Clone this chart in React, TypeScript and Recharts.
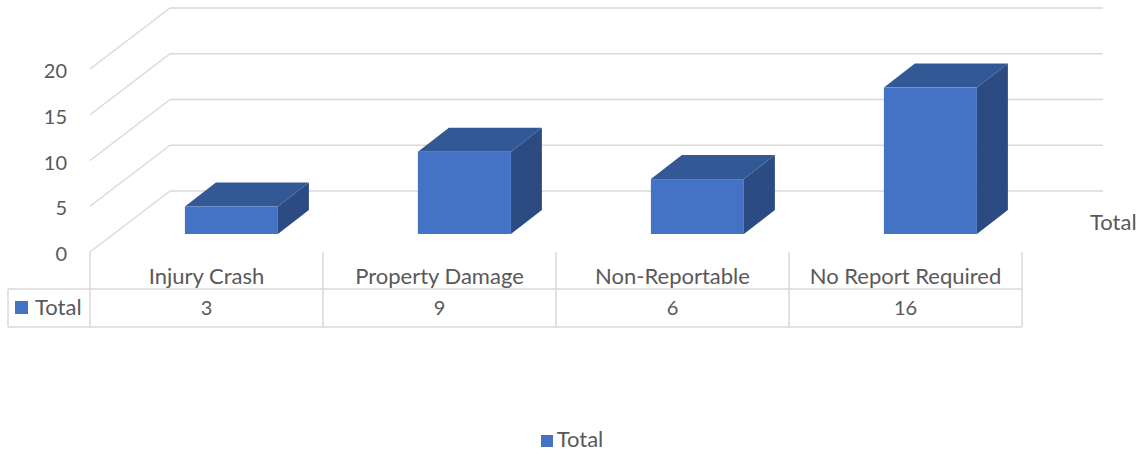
import { BarChart, Bar, XAxis, YAxis, Legend, CartesianGrid } from 'recharts';

const categories = ['Injury Crash', 'Property Damage', 'Non-Reportable', 'No Report Required'];
const totals = [3, 9, 6, 16];
const yTicks = [0, 5, 10, 15, 20];
const seriesName = 'Total';

const data = categories.map((name, i) => ({ name, total: totals[i] }));

const W = 1146;
const H = 455;
const TEXT = '#595959';
const GRID = '#D9D9D9';
const FONT = 'Lato, "Open Sans", sans-serif';
const FRONT = '#4472C4';
const TOP = '#335896';
const SIDE = '#2B4B82';
const WORD = 22;
const DIGIT = 20;

// plot box (front plane)
const PLOT_LEFT = 90;
const PLOT_TOP = 69;
const PLOT_BOTTOM = 252;
const PLOT_RIGHT = 1022;

// oblique projection of the depth axis
const WALL_DX = 80;
const WALL_DY = -61;
const BAR_DX = 25;
const BAR_DY = -18;
const BOX_DX = 31;
const BOX_DY = -24;
const WALL_RIGHT = 1103;

// data table rows
const ROW_MID = 289;
const ROW_BOTTOM = 327;
const TABLE_LEFT = 8;

// floor/wall line for one y tick: diagonal on the left wall, then along the back wall
function WallLine(props: any) {
  const { y1 } = props;
  const bx = PLOT_LEFT + WALL_DX;
  const by = y1 + WALL_DY;
  return (
    <g>
      <line x1={PLOT_LEFT} y1={y1} x2={bx} y2={by} stroke={GRID} strokeWidth={1.5} />
      <line x1={bx} y1={by} x2={WALL_RIGHT} y2={by} stroke={GRID} strokeWidth={1.5} />
    </g>
  );
}

function ValueTick(props: any) {
  const { y, payload } = props;
  return (
    <text x={67} y={y + 9} textAnchor="end" fill={TEXT} fontSize={DIGIT} fontFamily={FONT}>
      {payload.value}
    </text>
  );
}

function TableTick(props: any) {
  const { x, payload, index } = props;
  const half = payload.offset || 116.5;
  const left = x - half;
  const right = x + half;
  return (
    <g>
      <line x1={left} y1={PLOT_BOTTOM} x2={left} y2={ROW_BOTTOM} stroke={GRID} strokeWidth={1.5} />
      {index === categories.length - 1 && (
        <line x1={right} y1={PLOT_BOTTOM} x2={right} y2={ROW_BOTTOM} stroke={GRID} strokeWidth={1.5} />
      )}
      <line x1={left} y1={ROW_MID} x2={right} y2={ROW_MID} stroke={GRID} strokeWidth={1.5} />
      <line x1={left} y1={ROW_BOTTOM} x2={right} y2={ROW_BOTTOM} stroke={GRID} strokeWidth={1.5} />
      {index === 0 && (
        <g>
          <line x1={TABLE_LEFT} y1={ROW_MID} x2={left} y2={ROW_MID} stroke={GRID} strokeWidth={1.5} />
          <line x1={TABLE_LEFT} y1={ROW_BOTTOM} x2={left} y2={ROW_BOTTOM} stroke={GRID} strokeWidth={1.5} />
          <line x1={TABLE_LEFT} y1={ROW_MID} x2={TABLE_LEFT} y2={ROW_BOTTOM} stroke={GRID} strokeWidth={1.5} />
          <rect x={15} y={301} width={13} height={13} fill={FRONT} />
          <text x={35} y={315} fill={TEXT} fontSize={WORD} fontFamily={FONT}>{seriesName}</text>
        </g>
      )}
      <text x={x} y={284} textAnchor="middle" fill={TEXT} fontSize={WORD} fontFamily={FONT}>
        {payload.value}
      </text>
      <text x={x} y={315} textAnchor="middle" fill={TEXT} fontSize={DIGIT} fontFamily={FONT}>
        {totals[index]}
      </text>
    </g>
  );
}

function Box(props: any) {
  const { x, y, width, height } = props;
  const x0 = x + BAR_DX;
  const y0 = y + BAR_DY;
  const x1 = x0 + width;
  const y1 = y0 + height;
  return (
    <g>
      <polygon
        points={`${x1},${y0} ${x1 + BOX_DX},${y0 + BOX_DY} ${x1 + BOX_DX},${y1 + BOX_DY} ${x1},${y1}`}
        fill={SIDE}
      />
      <polygon
        points={`${x0},${y0} ${x0 + BOX_DX},${y0 + BOX_DY} ${x1 + BOX_DX},${y0 + BOX_DY} ${x1},${y0}`}
        fill={TOP}
      />
      <rect x={x0} y={y0} width={width} height={height} fill={FRONT} />
    </g>
  );
}

function DepthLabel(props: any) {
  const { viewBox } = props;
  return (
    <text x={viewBox.x + viewBox.width + 68} y={230} fill={TEXT} fontSize={WORD} fontFamily={FONT}>
      {seriesName}
    </text>
  );
}

export default function App() {
  return (
    <div style={{ position: 'absolute', left: 0, top: 0, width: W, height: H, background: '#fff' }}>
      <BarChart
        width={W}
        height={H}
        data={data}
        barCategoryGap="30%"
        margin={{ top: PLOT_TOP, right: W - PLOT_RIGHT, bottom: 143, left: 0 }}
      >
        <CartesianGrid vertical={false} horizontal={<WallLine />} />
        <YAxis
          domain={[0, 20]}
          ticks={yTicks}
          width={PLOT_LEFT}
          axisLine={false}
          tickLine={false}
          tick={<ValueTick />}
        />
        <XAxis
          dataKey="name"
          height={30}
          axisLine={false}
          tickLine={false}
          interval={0}
          tick={<TableTick />}
          label={<DepthLabel />}
        />
        <Bar dataKey="total" name={seriesName} fill={FRONT} shape={<Box />} isAnimationActive={false} />
        <Legend
          height={30}
          iconType="square"
          iconSize={12}
          wrapperStyle={{ top: 425, bottom: 'auto', left: 4, width: W, fontFamily: FONT, fontSize: WORD }}
          formatter={(v: string) => <span style={{ color: TEXT }}>{v}</span>}
        />
      </BarChart>
    </div>
  );
}
